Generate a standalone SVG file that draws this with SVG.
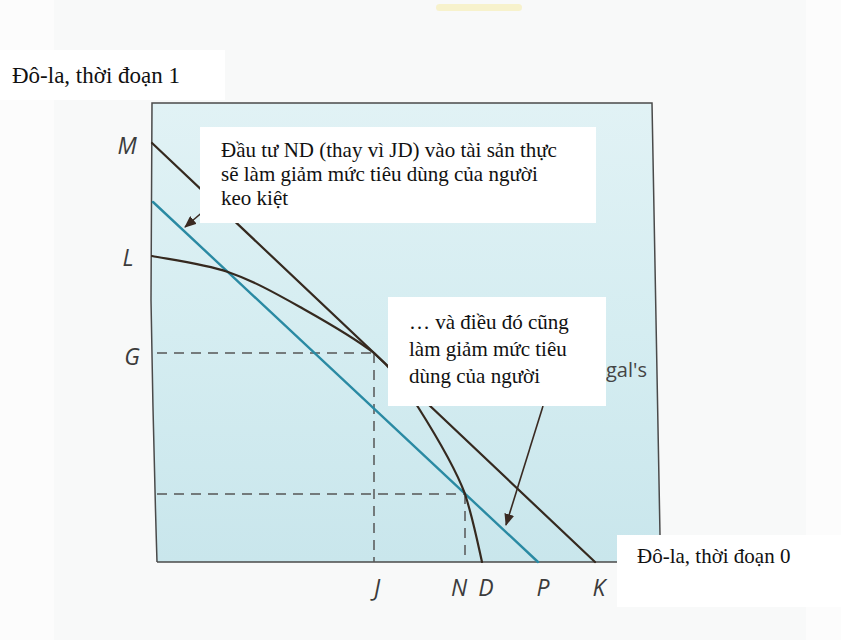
<svg xmlns="http://www.w3.org/2000/svg" width="841" height="640" viewBox="0 0 841 640">
<defs>
<linearGradient id="panelFill" x1="0" y1="0" x2="0" y2="1">
<stop offset="0" stop-color="#e1f2f5"/>
<stop offset="0.5" stop-color="#d5edf1"/>
<stop offset="1" stop-color="#c9e6ec"/>
</linearGradient>
<marker id="head" viewBox="0 0 12 10" refX="11" refY="5" markerWidth="12" markerHeight="10" markerUnits="userSpaceOnUse" orient="auto">
<path d="M0,0 L12,5 L0,10 Z" fill="#3a2a22"/>
</marker>
<style>
.page{fill:#f8f9f9}
.box{fill:#ffffff}
.vn{font-family:"Liberation Serif","Times New Roman",serif;font-size:21px;fill:#111111}
.ax{font-family:"Open Sans","Liberation Sans",sans-serif;font-size:23px;font-style:italic;fill:#3c3c3c}
.lbl{font-family:"Open Sans","Liberation Sans",sans-serif;font-size:20px;fill:#444444}
.frame{fill:none;stroke:#4a4a4a;stroke-width:1.5}
.dark{fill:none;stroke:#35291f;stroke-width:2.2;stroke-linecap:round}
.blue{fill:none;stroke:#2a8aa3;stroke-width:2.4;stroke-linecap:round}
.dash{fill:none;stroke:#555555;stroke-width:1.5;stroke-dasharray:10 7}
.arrow{fill:none;stroke:#3a2a22;stroke-width:1.6;marker-end:url(#head)}
</style>
</defs>

<rect x="0" y="0" width="841" height="640" fill="#fcfcfc"/>
<rect class="page" x="54" y="0" width="752" height="640"/>
<rect x="436" y="4" width="86" height="7" rx="3.5" fill="#f6f0c0" opacity="0.8"/>

<g id="panel">
<path d="M152,103 L652,103 L660,535 L660,562 L157,562 Q153,430 151,300 Z" fill="url(#panelFill)"/>
<path class="frame" d="M157,562 Q153,430 151,300 L152,103 L652,103 L660,535"/>
<line class="frame" x1="157" y1="562" x2="617" y2="562"/>
</g>

<g id="connectors">
<line class="dash" x1="157" y1="353" x2="374" y2="353"/>
<line class="dash" x1="374" y1="353" x2="374" y2="562"/>
<line class="dash" x1="157" y1="494" x2="465" y2="494"/>
<line class="dash" x1="465" y1="494" x2="465" y2="562"/>
<line id="line-MK" class="dark" x1="152" y1="143" x2="595" y2="562"/>
<line id="line-P" class="blue" x1="153" y1="202" x2="538" y2="562"/>
<path id="curve-LD" class="dark" d="M152,256 C164.7,258.7 203.3,263.5 228,272 C252.7,280.5 276,293.5 300,307 C324,320.5 352,336 374,353 C393,369.7 405,386 418,407 C432.7,430.3 455,467 465,494 C473,518.5 479,548.8 482,562"/>
<line class="arrow" x1="205" y1="210" x2="185" y2="227"/>
<line class="arrow" x1="543" y1="406" x2="506" y2="525"/>
</g>

<g id="axis-labels">
<text class="ax" x="127" y="154" text-anchor="middle">M</text>
<text class="ax" x="128" y="266" text-anchor="middle">L</text>
<text class="ax" x="132" y="365" text-anchor="middle">G</text>
<text class="ax" x="377" y="596" text-anchor="middle">J</text>
<text class="ax" x="459" y="596" text-anchor="middle">N</text>
<text class="ax" x="486" y="596" text-anchor="middle">D</text>
<text class="ax" x="543" y="596" text-anchor="middle">P</text>
<text class="ax" x="599" y="596" text-anchor="middle">K</text>
<text class="lbl" x="606" y="377">gal's</text>
</g>

<g id="note-1">
<rect class="box" x="200" y="127" width="396" height="96"/>
<text class="vn" x="221" y="157">Đầu tư ND (thay vì JD) vào tài sản thực</text>
<text class="vn" x="221" y="181">sẽ làm giảm mức tiêu dùng của người</text>
<text class="vn" x="221" y="205">keo kiệt</text>
</g>

<g id="note-2">
<rect class="box" x="388" y="297" width="218" height="109"/>
<text class="vn" x="409" y="329">… và điều đó cũng</text>
<text class="vn" x="409" y="356">làm giảm mức tiêu</text>
<text class="vn" x="409" y="383">dùng của người</text>
</g>

<g id="y-axis-title">
<rect class="box" x="0" y="50" width="225" height="50"/>
<text class="vn" x="12" y="83" style="font-size:23px">Đô-la, thời đoạn 1</text>
</g>

<g id="x-axis-title">
<rect class="box" x="617" y="535" width="224" height="72"/>
<text class="vn" x="637" y="563">Đô-la, thời đoạn 0</text>
</g>
</svg>
